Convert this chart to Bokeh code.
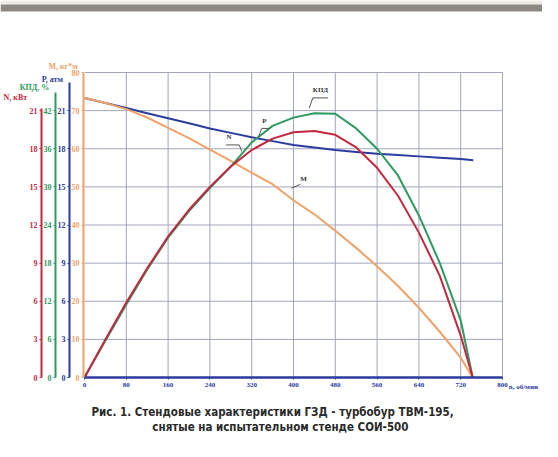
from bokeh.plotting import figure
from bokeh.models import Range1d, LinearAxis, FixedTicker, Label, BoxAnnotation
from bokeh.embed import file_html
from bokeh.resources import INLINE

# ---- data ----
n_vals = [0, 40, 80, 120, 160, 200, 240, 280, 320, 360, 400, 440, 480, 520, 560, 600, 640, 680, 720, 743]
M_vals = [73.4, 72.0, 70.4, 68.2, 65.5, 62.8, 59.8, 56.8, 53.7, 50.7, 46.5, 42.8, 38.5, 34.0, 29.2, 24.0, 18.3, 12.0, 5.2, 0.0]
N_vals = [0.0, 3.0, 5.9, 8.6, 11.1, 13.2, 15.0, 16.6, 17.9, 18.8, 19.3, 19.4, 19.1, 18.1, 16.5, 14.3, 11.4, 8.0, 3.3, 0.0]
KPD_vals = [0.0, 5.8, 11.5, 17.0, 22.0, 26.2, 29.8, 33.2, 37.0, 39.6, 40.9, 41.6, 41.5, 39.2, 36.0, 31.8, 25.5, 18.0, 9.0, 0.0]
nP_vals = [0, 40, 80, 120, 160, 200, 240, 280, 320, 360, 400, 440, 480, 520, 560, 600, 640, 680, 720, 744]
P_vals = [22.0, 21.6, 21.2, 20.8, 20.4, 20.0, 19.6, 19.25, 18.9, 18.6, 18.3, 18.1, 17.9, 17.75, 17.6, 17.5, 17.4, 17.3, 17.2, 17.1]

n_ticks = [0, 80, 160, 240, 320, 400, 480, 560, 640, 720, 800]
N_ticks = [0, 3, 6, 9, 12, 15, 18, 21]
KPD_ticks = [0, 6, 12, 18, 24, 30, 36, 42]
P_ticks = [0, 3, 6, 9, 12, 15, 18, 21]
M_ticks = [0, 10, 20, 30, 40, 50, 60, 70, 80]
grid_y = [3, 6, 9, 12, 15, 18, 21, 24]

caption1 = "Рис. 1. Стендовые характеристики ГЗД - турбобур ТВМ-195,"
caption2 = "снятые на испытательном стенде СОИ-500"

RED = "#c4283e"
GREEN = "#2e9a60"
BLUE = "#2b3b9e"
ORANGE = "#f0a268"
GRID = "#a2a6bc"
SERIF = "Liberation Serif"

W, H = 542, 441
# chart area in pixels: n 0..800 -> x 84..502 ; N 0..24 -> y 377..72
PX_N = 418 / 800.0
PY_N = 305 / 24.0
x0 = -84 / PX_N
x1 = (W - 84) / PX_N
y0 = -(H - 377) / PY_N
y1 = 24 + 72 / PY_N

p = figure(width=W, height=H, x_range=Range1d(x0, x1), y_range=Range1d(y0, y1),
           output_backend="svg", toolbar_location=None,
           x_axis_location=None, y_axis_location=None, min_border=0)
p.extra_y_ranges = {"kpd": Range1d(2 * y0, 2 * y1), "p": Range1d(y0, y1),
                    "m": Range1d(y0 * 10 / 3, y1 * 10 / 3)}
p.outline_line_color = None
p.xgrid.visible = False
p.ygrid.visible = False
p.background_fill_color = "white"
p.border_fill_color = "white"

# top frame band
p.add_layout(BoxAnnotation(bottom=y1 - 4 / PY_N, fill_color="#ecebe4", fill_alpha=1, line_color=None))
p.add_layout(BoxAnnotation(top=y1 - 4 / PY_N, bottom=y1 - 11 / PY_N, fill_color="#8b8981",
                           fill_alpha=1, line_color=None))

# grid
p.segment(x0=n_ticks[1:], y0=[0] * 10, x1=n_ticks[1:], y1=[24] * 10, line_color=GRID, line_width=1)
p.segment(x0=[0] * len(grid_y), y0=grid_y, x1=[800] * len(grid_y), y1=grid_y, line_color=GRID, line_width=1)


def yaxis(rng, color, ticks, bounds, loc):
    ax = LinearAxis(y_range_name=rng, ticker=FixedTicker(ticks=ticks), bounds=bounds,
                    fixed_location=loc,
                    axis_line_color=color, axis_line_width=2,
                    major_tick_line_color=color, major_tick_line_width=1,
                    major_tick_out=2, major_tick_in=0,
                    minor_tick_line_color=None,
                    major_label_text_color=color, major_label_text_font=SERIF,
                    major_label_text_font_size="8px", major_label_text_font_style="bold",
                    major_label_standoff=2)
    p.add_layout(ax, "left")
    return ax


yaxis("m", ORANGE, M_ticks, (0, 80), -2)
yaxis("p", BLUE, P_ticks, (0, 23.2), -28.7)
yaxis("kpd", GREEN, KPD_ticks, (0, 44.8), -55.5)
yaxis("default", RED, N_ticks, (0, 21.2), -82.3)

xa = LinearAxis(ticker=FixedTicker(ticks=n_ticks), bounds=(0, 800), fixed_location=0,
                axis_line_color=BLUE, axis_line_width=2.5,
                major_tick_line_color=BLUE, major_tick_out=2, major_tick_in=0,
                minor_tick_line_color=None,
                major_label_text_color=BLUE, major_label_text_font=SERIF,
                major_label_text_font_size="7px", major_label_text_font_style="bold",
                major_label_standoff=3)
p.add_layout(xa, "below")

# ---- curves ----
p.line(nP_vals, P_vals, y_range_name="p", line_color=BLUE, line_width=2)
p.line(n_vals, M_vals, y_range_name="m", line_color=ORANGE, line_width=2)
p.line(n_vals, KPD_vals, y_range_name="kpd", line_color=GREEN, line_width=2)
p.line(n_vals, N_vals, line_color=RED, line_width=2)

# ---- curve labels with leaders ----
lead = dict(line_color="#555555", line_width=1)
p.line([430, 437, 466], [21.2, 22.0, 22.0], **lead)
p.line([333, 339, 354], [18.9, 19.6, 19.6], **lead)
p.line([271, 296, 301], [18.3, 18.3, 17.8], **lead)
p.line([396, 413], [14.9, 15.2], **lead)
for txt, x, y in [("КПД", 437, 22.6), ("P", 340, 20.2), ("N", 272, 18.9), ("M", 413, 15.6)]:
    p.add_layout(Label(x=x, y=y, text=txt, text_font=SERIF, text_font_size="7px",
                       text_font_style="bold", text_color="#333333", text_baseline="middle"))

# ---- axis titles ----
for txt, x, y, c in [("N, кВт", -155, 22.03, RED), ("КПД, %", -124, 22.8, GREEN),
                     ("P, атм", -82, 23.45, BLUE), ("M, кг*м", -69, 24.47, ORANGE)]:
    p.add_layout(Label(x=x, y=y, text=txt, text_font=SERIF, text_font_size="8px",
                       text_font_style="bold", text_color=c, text_baseline="middle"))

p.add_layout(Label(x=812, y=-0.72, text="n, об/мин", text_font=SERIF, text_font_size="7px",
                   text_font_style="bold", text_color=BLUE, text_baseline="middle"))

# ---- caption ----
for txt, x, y in [(caption1, 360, -2.75), (caption2, 375, -3.93)]:
    p.add_layout(Label(x=x, y=y, text=txt,
                       text_font="Liberation Sans Narrow, DejaVu Sans Condensed, Liberation Sans",
                       text_font_size="11.5px", text_font_style="bold", text_color="#2a2a2a",
                       text_align="center", text_baseline="middle"))

open("out.html", "w").write(file_html(p, INLINE))
